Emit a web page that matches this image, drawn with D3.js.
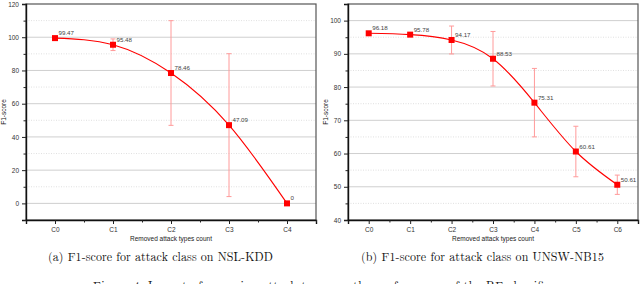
<!DOCTYPE html>
<html>
<head>
<meta charset="utf-8">
<script src="https://cdn.jsdelivr.net/npm/d3@7"></script>
<style>
  body { margin: 0; background: #fff; }
  svg { display: block; }
  .tick text { font-family: 'Liberation Sans', Arial, sans-serif; font-size: 6.5px; fill: #333; }
</style>
</head>
<body>
<div id="chart"></div>
<script>
// NSL-KDD panel
const kddCats = ['C0', 'C1', 'C2', 'C3', 'C4'];
const kddScores = [99.47, 95.48, 78.46, 47.09, 0];
const kddErr = [0, 3.5, 31.5, 43, 0];
const kddLabels = ['99.47', '95.48', '78.46', '47.09', '0'];
const kddMajor = [0, 20, 40, 60, 80, 100, 120];
const kddMinor = [-10, 10, 30, 50, 70, 90, 110];

// UNSW-NB15 panel
const unswCats = ['C0', 'C1', 'C2', 'C3', 'C4', 'C5', 'C6'];
const unswScores = [96.18, 95.78, 94.17, 88.53, 75.31, 60.61, 50.61];
const unswErr = [0, 0, 4.2, 8.2, 10.3, 7.6, 2.9];
const unswLabels = ['96.18', '95.78', '94.17', '88.53', '75.31', '60.61', '50.61'];
const unswMajor = [40, 50, 60, 70, 80, 90, 100];
const unswMinor = [45, 55, 65, 75, 85, 95, 105];

const width = 640;
const height = 284;

const svg = d3.select('#chart')
  .append('svg')
  .attr('width', width)
  .attr('height', height);

function drawPanel(opt) {
  const { left, right, top, bottom, cats, scores, err, labels, yDomain, major, minor } = opt;
  const g = svg.append('g');

  const x = d3.scaleLinear()
    .domain([-0.5, cats.length - 0.5])
    .range([left, right]);
  const y = d3.scaleLinear()
    .domain(yDomain)
    .range([bottom, top]);

  // grid
  g.append('g')
    .selectAll('line')
    .data(minor.filter((v) => v > yDomain[0] && v < yDomain[1]))
    .join('line')
    .attr('x1', left).attr('x2', right)
    .attr('y1', (d) => y(d)).attr('y2', (d) => y(d))
    .attr('stroke', '#d8d8d8')
    .attr('stroke-dasharray', '1,1.5')
    .attr('stroke-width', 0.8);
  g.append('g')
    .selectAll('line')
    .data(major.filter((v) => v > yDomain[0] && v < yDomain[1]))
    .join('line')
    .attr('x1', left).attr('x2', right)
    .attr('y1', (d) => y(d)).attr('y2', (d) => y(d))
    .attr('stroke', '#cfcfcf')
    .attr('stroke-width', 1);

  // frame
  g.append('rect')
    .attr('x', left).attr('y', top)
    .attr('width', right - left).attr('height', bottom - top)
    .attr('fill', 'none')
    .attr('stroke', '#555')
    .attr('stroke-width', 1.2);

  // x axis
  g.append('g')
    .attr('transform', `translate(0,${bottom})`)
    .call(d3.axisBottom(x)
      .tickValues(d3.range(cats.length))
      .tickFormat((i) => cats[i])
      .tickSize(4)
      .tickPadding(3));
  g.append('g')
    .attr('transform', `translate(0,${bottom})`)
    .call(d3.axisBottom(x)
      .tickValues(d3.range(cats.length + 1).map((i) => i - 0.5))
      .tickFormat('')
      .tickSize(2.5))
    .call((a) => a.select('.domain').remove());

  // y axis
  g.append('g')
    .attr('transform', `translate(${left},0)`)
    .call(d3.axisLeft(y)
      .tickValues(major)
      .tickSize(4)
      .tickPadding(3));
  g.append('g')
    .attr('transform', `translate(${left},0)`)
    .call(d3.axisLeft(y)
      .tickValues(minor)
      .tickFormat('')
      .tickSize(2.5))
    .call((a) => a.select('.domain').remove());

  g.selectAll('.domain').attr('stroke', '#111').attr('stroke-width', 1.4);
  g.selectAll('.tick line').attr('stroke', '#222');

  // axis titles
  g.append('text')
    .attr('x', (left + right) / 2)
    .attr('y', bottom + 20.5)
    .attr('text-anchor', 'middle')
    .attr('font-family', 'Liberation Sans, Arial, sans-serif')
    .attr('font-size', 6.5)
    .attr('fill', '#222')
    .text('Removed attack types count');
  g.append('text')
    .attr('transform', `translate(${left - 20},${(top + bottom) / 2}) rotate(-90)`)
    .attr('text-anchor', 'middle')
    .attr('font-family', 'Liberation Sans, Arial, sans-serif')
    .attr('font-size', 6.5)
    .attr('fill', '#222')
    .text('F1-score');

  const pts = scores.map((v, i) => ({ i, v, e: err[i], label: labels[i] }));

  // error bars
  const eb = g.append('g')
    .attr('stroke', '#ff9a9a')
    .attr('stroke-width', 1);
  const withErr = pts.filter((d) => d.e > 0);
  eb.selectAll('.stem')
    .data(withErr)
    .join('line')
    .attr('x1', (d) => x(d.i)).attr('x2', (d) => x(d.i))
    .attr('y1', (d) => y(d.v + d.e)).attr('y2', (d) => y(d.v - d.e));
  eb.selectAll('.capT')
    .data(withErr)
    .join('line')
    .attr('x1', (d) => x(d.i) - 2.5).attr('x2', (d) => x(d.i) + 2.5)
    .attr('y1', (d) => y(d.v + d.e)).attr('y2', (d) => y(d.v + d.e));
  eb.selectAll('.capB')
    .data(withErr)
    .join('line')
    .attr('x1', (d) => x(d.i) - 2.5).attr('x2', (d) => x(d.i) + 2.5)
    .attr('y1', (d) => y(d.v - d.e)).attr('y2', (d) => y(d.v - d.e));

  // line
  const line = d3.line()
    .x((d) => x(d.i))
    .y((d) => y(d.v))
    .curve(d3.curveNatural);
  g.append('path')
    .datum(pts)
    .attr('d', line)
    .attr('fill', 'none')
    .attr('stroke', '#ff0000')
    .attr('stroke-width', 1.1);

  // markers
  g.selectAll('.mk')
    .data(pts)
    .join('rect')
    .attr('x', (d) => x(d.i) - 3)
    .attr('y', (d) => y(d.v) - 3)
    .attr('width', 6)
    .attr('height', 6)
    .attr('fill', '#ff0000');

  // value labels
  g.selectAll('.lbl')
    .data(pts)
    .join('text')
    .attr('x', (d) => x(d.i) + 3.5)
    .attr('y', (d) => y(d.v) - 3)
    .attr('font-family', 'Liberation Sans, Arial, sans-serif')
    .attr('font-size', 6.2)
    .attr('fill', '#444')
    .text((d) => d.label);
}

drawPanel({
  left: 26, right: 316, top: 4, bottom: 220,
  cats: kddCats, scores: kddScores, err: kddErr, labels: kddLabels,
  yDomain: [-10, 120], major: kddMajor, minor: kddMinor,
});

drawPanel({
  left: 348, right: 638, top: 4, bottom: 220,
  cats: unswCats, scores: unswScores, err: unswErr, labels: unswLabels,
  yDomain: [40, 105], major: unswMajor, minor: unswMinor,
});

// captions
const serif = 'Latin Modern Roman, Liberation Serif, Times New Roman, serif';
svg.append('text')
  .attr('x', 48).attr('y', 261)
  .attr('font-family', serif)
  .attr('font-size', 12)
  .attr('textLength', 225)
  .attr('fill', '#111')
  .text('(a) F1-score for attack class on NSL-KDD');
svg.append('text')
  .attr('x', 361).attr('y', 261)
  .attr('font-family', serif)
  .attr('font-size', 12)
  .attr('textLength', 243)
  .attr('fill', '#111')
  .text('(b) F1-score for attack class on UNSW-NB15');
svg.append('text')
  .attr('x', 93).attr('y', 289.5)
  .attr('font-family', serif)
  .attr('font-size', 12)
  .attr('textLength', 462)
  .attr('fill', '#111')
  .text('Figure 4: Impact of removing attack types on the performance of the RF classifier');
</script>
</body>
</html>
